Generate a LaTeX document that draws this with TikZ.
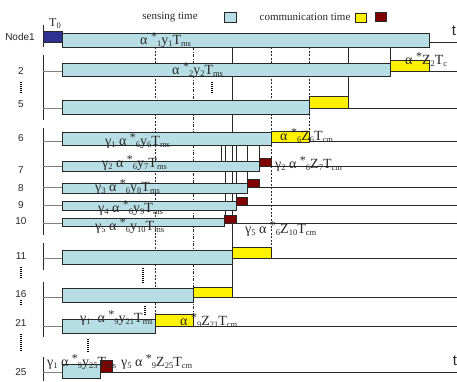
\documentclass[tikz,border=0pt]{standalone}
\usepackage{fontspec}
\setmainfont{Liberation Serif}
\newfontfamily\labfont{Liberation Sans}
\newcommand{\dn}[1]{\raisebox{-0.45ex}{\fontsize{8.5}{9}\selectfont #1}}
\newcommand{\stx}{\raisebox{0.5ex}{\fontsize{12}{12}\selectfont *}}
\definecolor{sensecol}{RGB}{183,222,228}
\definecolor{ackcol}{RGB}{128,0,0}
\definecolor{tzero}{RGB}{46,49,146}
\definecolor{inkcol}{RGB}{40,40,40}
\begin{document}
\begin{tikzpicture}[x=1pt,y=-1pt,
  sense/.style={draw=inkcol,fill=sensecol,line width=0.6pt},
  commbox/.style={draw=inkcol,fill=yellow,line width=0.6pt},
  ackbox/.style={draw=inkcol,fill=ackcol,line width=0.6pt},
  tline/.style={draw=inkcol,line width=0.6pt},
  stub/.style={draw=gray,line width=0.6pt},
  vsolid/.style={draw=inkcol,line width=0.7pt},
  vdash/.style={draw=inkcol,line width=0.5pt,dash pattern=on 2pt off 1.5pt},
  vdashdot/.style={draw=inkcol,line width=0.5pt,dash pattern=on 3pt off 1.5pt on 1pt off 1.5pt},
  vdots/.style={draw=black,line width=1.8pt,dash pattern=on 1pt off 1pt},
  lab/.style={font=\labfont\fontsize{10}{12}\selectfont,text=inkcol,inner sep=0pt},
  eq/.style={font=\fontsize{14}{15}\selectfont,text=inkcol,inner sep=0pt,anchor=base west},
  leg/.style={font=\fontsize{11}{12}\selectfont,text=inkcol,inner sep=0pt}]
\useasboundingbox (0,0) rectangle (457,381);
\fill[white] (0,0) rectangle (457,381);
% left axis
\foreach \a/\b in {25/47,55/120,128/235,243/270,282/337,357/381}
  \draw[tline] (43,\a) -- (43,\b);
% long vertical markers
\draw[vdash] (155,47) -- (155,314);
\draw[vdashdot] (193,47) -- (193,314);
\draw[vsolid] (232,47) -- (232,287);
\draw[vdash] (271,47) -- (271,247);
\draw[vdash] (309,47) -- (309,131);
\draw[vsolid] (348,47) -- (348,96);
\draw[vsolid] (390,47) -- (390,60);
% short verticals rows 6-10
\draw[vsolid] (221,145) -- (221,161);
\draw[vsolid] (225,145) -- (225,216);
\draw[vsolid] (236,145) -- (236,197);
\draw[vsolid] (247,145) -- (247,179);
\draw[vsolid] (259,145) -- (259,158);
% timelines (stub + right part)
\foreach \y/\xr in {71/429,108/348,141/309,166/271,187/259,205/247,223/236,258/271,297/232,326/193,372/112}{
  \draw[stub] (43,\y) -- (62,\y);
  \draw[tline] (\xr,\y) -- (457,\y);
}
\draw[tline] (429,42) -- (457,42);
% node 1
\filldraw[draw=inkcol,fill=tzero,line width=0.6pt] (43,31) rectangle (62,42);
\filldraw[sense] (62,33) rectangle (429,47);
% row 2
\filldraw[sense] (62,63) rectangle (390,76);
\filldraw[commbox] (390,60) rectangle (429,71);
% row 5
\filldraw[sense] (62,100) rectangle (309,114);
\filldraw[commbox] (309,96) rectangle (348,108);
% row 6
\filldraw[sense] (62,132) rectangle (271,145);
\filldraw[commbox] (271,131) rectangle (309,142);
% rows 7-10
\filldraw[sense] (62,161) rectangle (259,171);
\filldraw[ackbox] (259,158) rectangle (271,166);
\filldraw[sense] (62,183) rectangle (247,193);
\filldraw[ackbox] (247,179) rectangle (259,187);
\filldraw[sense] (62,201) rectangle (236,210);
\filldraw[ackbox] (236,197) rectangle (247,205);
\filldraw[sense] (62,218) rectangle (224,226);
\filldraw[ackbox] (224,215) rectangle (236,223);
% row 11
\filldraw[sense] (62,250) rectangle (232,264);
\filldraw[commbox] (232,247) rectangle (271,258);
% row 16
\filldraw[sense] (62,288) rectangle (193,302);
\filldraw[commbox] (193,287) rectangle (232,297);
% row 21
\filldraw[sense] (62,319) rectangle (155,333);
\filldraw[commbox] (155,314) rectangle (193,326);
% row 25
\filldraw[sense] (62,364) rectangle (100,378);
\filldraw[ackbox] (100,360) rectangle (112,372);
% dotted markers
\foreach \x/\a/\b in {21/82/94,21/267/279,21/300/306,21/334/352,212/82/93,143/268/283,145/306/316,88/339/352}
  \draw[vdots] (\x,\a) -- (\x,\b);
% legend
\node[leg] (lsense) at (170,17) {sensing time};
\filldraw[sense] (224,12) rectangle (236,22);
\node[leg] (lcomm) at (305,17) {communication time};
\filldraw[commbox] (355,13) rectangle (366,22);
\filldraw[ackbox] (375,12) rectangle (386,21);
% T0 and t
\node[font=\fontsize{12}{12}\selectfont,text=inkcol,inner sep=0pt,anchor=base] (tz) at (55,26) {T\dn{0}};
\node[font=\labfont\fontsize{15}{15}\selectfont,text=inkcol,inner sep=0pt] (ttop) at (454,31) {t};
\node[font=\labfont\fontsize{15}{15}\selectfont,text=inkcol,inner sep=0pt] (tbot) at (455,361) {t};
% row labels
\node[lab] (l1) at (20,37) {Node1};
\node[lab] (l2) at (21,71) {2};
\node[lab] (l5) at (21,104) {5};
\node[lab] (l6) at (21,138) {6};
\node[lab] (l7) at (21,170) {7};
\node[lab] (l8) at (21,188) {8};
\node[lab] (l9) at (21,205) {9};
\node[lab] (l10) at (21,221) {10};
\node[lab] (l11) at (21,256) {11};
\node[lab] (l16) at (21,294) {16};
\node[lab] (l21) at (21,323) {21};
\node[lab] (l25) at (21,372) {25};
% formulas
\node[eq] (e1) at (140,44) {α \stx\dn{1}y\dn{1}T\dn{ms}};
\node[eq] (e2) at (172,74) {α \stx\dn{2}y\dn{2}T\dn{ms}};
\node[eq] (c2) at (405,64) {α \stx Z\dn{2}T\dn{c}};
\node[eq] (e6) at (105,145) {γ\dn{1} α \stx\dn{6}y\dn{6}T\dn{ms}};
\node[eq] (c6) at (280,140) {α \stx\dn{6}Z\dn{6}T\dn{cm}};
\node[eq] (e7) at (102,167) {γ\dn{2} α \stx\dn{6}y\dn{7}T\dn{ms}};
\node[eq] (c7) at (275,168) {γ\dn{2} α \stx\dn{6}Z\dn{7}T\dn{cm}};
\node[eq] (e8) at (95,191) {γ\dn{3} α \stx\dn{6}y\dn{8}T\dn{ms}};
\node[eq] (e9) at (98,212) {γ\dn{4} α \stx\dn{6}y\dn{9}T\dn{ms}};
\node[eq] (e10) at (95,230) {γ\dn{5} α \stx\dn{6}y\dn{10}T\dn{ms}};
\node[eq] (c10) at (245,233) {γ\dn{5} α \stx\dn{6}Z\dn{10}T\dn{cm}};
\node[eq] (e21) at (80,322) {γ\dn{1} \ α \stx\dn{9}y\dn{21}T\dn{ms}};
\node[eq] (c21) at (180,325) {α \stx\dn{9}Z\dn{21}T\dn{cm}};
\node[eq] (e25) at (47,366) {γ\dn{1} α \stx\dn{9}y\dn{25}T\dn{ms}};
\node[eq] (c25) at (121,366) {γ\dn{5} α \stx\dn{9}Z\dn{25}T\dn{cm}};
\end{tikzpicture}
\end{document}
